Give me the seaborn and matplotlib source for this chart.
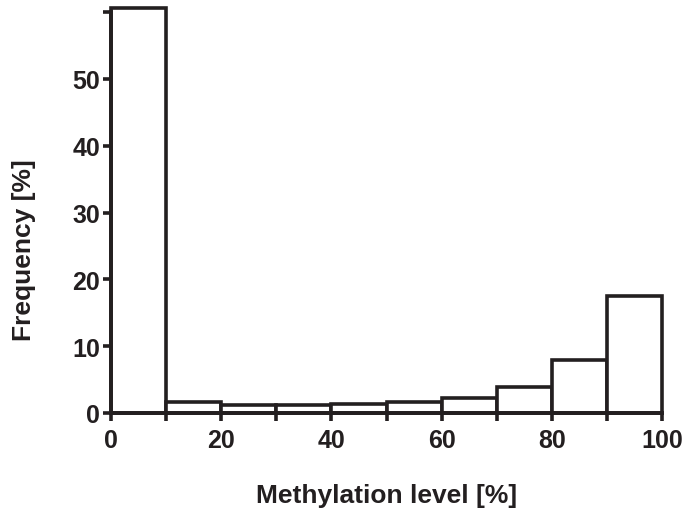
import matplotlib
matplotlib.use("Agg")
import matplotlib.pyplot as plt
import seaborn as sns
import numpy as np

# Data
bin_edges = [0, 10, 20, 30, 40, 50, 60, 70, 80, 90, 100]
bin_centers = [5, 15, 25, 35, 45, 55, 65, 75, 85, 95]
frequency = [60.6, 1.7, 1.2, 1.2, 1.4, 1.7, 2.3, 3.9, 7.9, 17.5]
x_major_ticks = [0, 20, 40, 60, 80, 100]
x_minor_ticks = [10, 30, 50, 70, 90]
y_ticks = [0, 10, 20, 30, 40, 50]
y_extra_tick = [60]

sns.set_style("ticks")
plt.rcParams['font.family'] = ['Liberation Sans', 'DejaVu Sans']
plt.rcParams['font.weight'] = 'bold'

fig = plt.figure(figsize=(6.86, 5.10), dpi=100)
ax = fig.add_axes([111 / 686, 96 / 510, 551 / 686, 401 / 510])

sns.histplot(x=bin_centers, weights=frequency, bins=bin_edges, ax=ax,
             stat="count", element="bars", fill=True, color="white",
             edgecolor="#231f20", linewidth=2.6, alpha=1)
for p in ax.patches:
    p.set_clip_on(False)
    p.set_facecolor("white")
    p.set_edgecolor("#231f20")
    p.set_zorder(3)

ax.set_xlim(0, 100)
ax.set_ylim(0, 60)
ax.set_xticks(x_major_ticks)
ax.set_xticks(x_minor_ticks, minor=True)
ax.set_yticks(y_ticks + y_extra_tick)
ax.set_yticklabels([str(v) for v in y_ticks] + [""])

for side in ["top", "right"]:
    ax.spines[side].set_visible(False)
for side in ["left", "bottom"]:
    ax.spines[side].set_linewidth(2.8)
    ax.spines[side].set_color("#231f20")
    ax.spines[side].set_zorder(4)

ax.tick_params(axis="both", which="both", direction="out", length=6, width=2.6,
               color="#231f20", labelsize=18, pad=2)
ax.tick_params(axis="x", which="both", pad=5)
for lab in ax.get_xticklabels() + ax.get_yticklabels():
    lab.set_fontweight("bold")
    lab.set_color("#231f20")

ax.set_xlabel("Methylation level [%]", fontsize=19, fontweight="bold",
              color="#231f20", labelpad=22)
ax.set_ylabel("Frequency [%]", fontsize=19, fontweight="bold",
              color="#231f20")
ax.yaxis.set_label_coords(-0.136, 0.4075)

fig.savefig("out.png", dpi=100)
